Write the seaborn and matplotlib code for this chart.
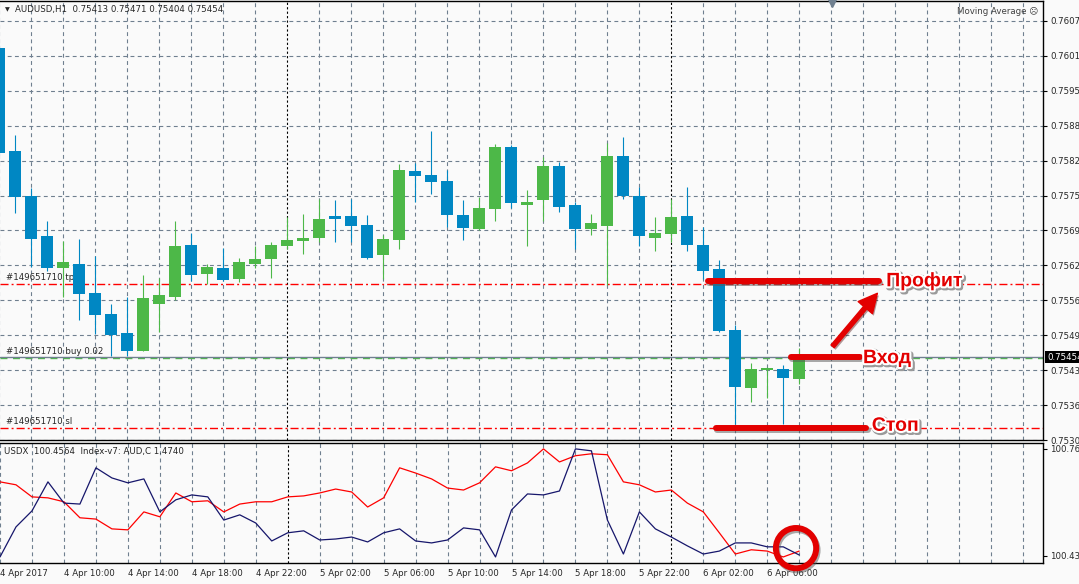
import matplotlib
matplotlib.use('Agg')
import matplotlib.pyplot as plt
import matplotlib.patheffects as pe
import numpy as np
import pandas as pd
import seaborn as sns

# AUDUSD H1 bars, hour 0 = 4 Apr 06:00
hours = list(range(51))
opens = [0.76025, 0.75834, 0.75751, 0.75677, 0.75618, 0.75627, 0.75572, 0.75533, 0.75498, 0.75465,
         0.75552, 0.75565, 0.75662, 0.75607, 0.75618, 0.75598, 0.75627, 0.75636, 0.75660, 0.75668,
         0.75675, 0.75714, 0.75714, 0.75699, 0.75642, 0.75671, 0.75797, 0.75791, 0.75780, 0.75716,
         0.75690, 0.75727, 0.75843, 0.75736, 0.75745, 0.75808, 0.75736, 0.75690, 0.75697, 0.75826,
         0.75752, 0.75675, 0.75682, 0.75714, 0.75662, 0.75616, 0.75504, 0.75397, 0.75430, 0.75432,
         0.75413]
highs = [0.76031, 0.75865, 0.75767, 0.75706, 0.75668, 0.75673, 0.75640, 0.75553, 0.75566, 0.75605,
         0.75601, 0.75705, 0.75684, 0.75627, 0.75655, 0.75638, 0.75660, 0.75666, 0.75712, 0.75719,
         0.75747, 0.75745, 0.75747, 0.75717, 0.75679, 0.75811, 0.75813, 0.75872, 0.75800, 0.75745,
         0.75749, 0.75847, 0.75845, 0.75762, 0.75824, 0.75815, 0.75741, 0.75719, 0.75850, 0.75861,
         0.75769, 0.75712, 0.75747, 0.75769, 0.75695, 0.75634, 0.75513, 0.75443, 0.75436, 0.75439,
         0.75471]
lows = [0.75828, 0.75721, 0.75620, 0.75614, 0.75566, 0.75522, 0.75496, 0.75456, 0.75456, 0.75465,
        0.75500, 0.75559, 0.75594, 0.75590, 0.75594, 0.75592, 0.75618, 0.75600, 0.75653, 0.75644,
        0.75666, 0.75666, 0.75666, 0.75636, 0.75598, 0.75653, 0.75740, 0.75756, 0.75695, 0.75671,
        0.75688, 0.75706, 0.75729, 0.75659, 0.75705, 0.75723, 0.75653, 0.75679, 0.75588, 0.75747,
        0.75660, 0.75651, 0.75666, 0.75651, 0.75598, 0.75500, 0.75330, 0.75371, 0.75378, 0.75330,
        0.75404]
closes = [0.75832, 0.75749, 0.75673, 0.75618, 0.75629, 0.75570, 0.75531, 0.75495, 0.75465, 0.75563,
          0.75568, 0.75660, 0.75605, 0.75620, 0.75596, 0.75629, 0.75636, 0.75662, 0.75671, 0.75675,
          0.75710, 0.75710, 0.75697, 0.75638, 0.75673, 0.75799, 0.75789, 0.75778, 0.75716, 0.75692,
          0.75729, 0.75843, 0.75738, 0.75741, 0.75808, 0.75732, 0.75690, 0.75701, 0.75826, 0.75751,
          0.75677, 0.75684, 0.75712, 0.75662, 0.75614, 0.75502, 0.75399, 0.75432, 0.75434, 0.75415,
          0.75454]

# Index-v7 sub window
usdx = [100.433, 100.525, 100.574, 100.663, 100.598, 100.595, 100.706, 100.675, 100.660, 100.672,
        100.571, 100.608, 100.623, 100.617, 100.546, 100.562, 100.537, 100.482, 100.507, 100.513,
        100.485, 100.488, 100.494, 100.479, 100.507, 100.519, 100.482, 100.476, 100.485, 100.522,
        100.516, 100.433, 100.577, 100.626, 100.623, 100.635, 100.764, 100.758, 100.546, 100.442,
        100.571, 100.519, 100.494, 100.467, 100.442, 100.451, 100.476, 100.476, 100.464, 100.464,
        100.439]
aud = [100.663, 100.654, 100.617, 100.614, 100.602, 100.553, 100.549, 100.519, 100.516, 100.571,
       100.556, 100.629, 100.602, 100.605, 100.571, 100.595, 100.602, 100.602, 100.617, 100.620,
       100.629, 100.641, 100.632, 100.586, 100.614, 100.706, 100.690, 100.672, 100.644, 100.638,
       100.660, 100.709, 100.697, 100.721, 100.764, 100.724, 100.743, 100.749, 100.746, 100.663,
       100.654, 100.632, 100.638, 100.598, 100.571, 100.507, 100.442, 100.455, 100.451, 100.433,
       100.451]

price_labels = ['0.76075', '0.76010', '0.75950', '0.75885', '0.75820', '0.75755', '0.75690',
                '0.75625', '0.75560', '0.75495', '0.75430', '0.75365', '0.75305']
time_hours = [0, 4, 8, 12, 16, 20, 24, 28, 32, 36, 40, 44, 48]
time_labels = ['4 Apr 2017', '4 Apr 10:00', '4 Apr 14:00', '4 Apr 18:00', '4 Apr 22:00',
               '5 Apr 02:00', '5 Apr 06:00', '5 Apr 10:00', '5 Apr 14:00', '5 Apr 18:00',
               '5 Apr 22:00', '6 Apr 02:00', '6 Apr 06:00']
day_breaks = [18, 42]

tp_price = 0.75590
sl_price = 0.75323
entry_price = 0.75452
bid_price = closes[-1]

BG = '#fafafa'
GRID = '#6f7f8f'
BULL = '#4db848'
BEAR = '#0087c3'
RED = '#e30000'

sns.set_theme(style='white')
plt.rcParams['font.family'] = ['DejaVu Sans']
FS = 6.2

fig = plt.figure(figsize=(10.79, 5.84), dpi=100, facecolor=BG)
ax = fig.add_axes([0, 144 / 584, 1043 / 1079, 439 / 584], facecolor=BG)
ax2 = fig.add_axes([0, 21 / 584, 1043 / 1079, 120 / 584], facecolor=BG)

xlim = (0.0625, 65.25)
grid_hours = [h for h in range(0, 66, 2) if h not in day_breaks]

# candles
df = pd.DataFrame({'t': hours, 'open': opens, 'high': highs, 'low': lows, 'close': closes})
colors = np.where(df['close'] >= df['open'], BULL, BEAR)
ax.vlines(df['t'], df['low'], df['high'], colors=colors, lw=0.8, zorder=4)
body_lo = df[['open', 'close']].min(axis=1)
body_h = (df['close'] - df['open']).abs().clip(lower=3e-5)
ax.bar(df['t'], body_h, bottom=body_lo, width=0.7, color=colors, lw=0, zorder=5)

price_ticks = 0.76075 - 0.000645 * np.arange(len(price_labels))
ax.set_ylim(0.753028, 0.761119)
ax.set_xlim(*xlim)
ax.set_yticks(price_ticks)
ax.set_yticklabels(price_labels)
ax.set_xticks([])
ax.yaxis.tick_right()
ax.tick_params(axis='y', right=True, length=3, width=0.8, color='black', labelsize=FS, pad=2)
ax.grid(True, axis='y', color=GRID, lw=0.8, linestyle=(0, (3.5, 3)))
for h in grid_hours:
    ax.axvline(h, color=GRID, lw=0.8, ls=(0, (3.5, 3)), zorder=1)
    ax2.axvline(h, color=GRID, lw=0.8, ls=(0, (3.5, 3)), zorder=1)
for h in day_breaks:
    ax.axvline(h, color='black', lw=0.8, ls=(0, (2, 2)), zorder=1)
    ax2.axvline(h, color='black', lw=0.8, ls=(0, (2, 2)), zorder=1)

# order levels
ax.axhline(tp_price, color='#ff0000', lw=1, ls=(0, (5.8, 2.2, 1.4, 2.2)), zorder=2)
ax.axhline(sl_price, color='#ff0000', lw=1, ls=(0, (5.8, 2.2, 1.4, 2.2)), zorder=2)
ax.axhline(entry_price, color=BULL, lw=1, ls=(0, (5, 4)), zorder=2)
ax.axhline(bid_price, color='#708090', lw=1, zorder=2)
ytr = ax.get_yaxis_transform()
ax.text(0.006, tp_price + 0.00003, '#149651710 tp', transform=ytr, fontsize=FS, va='bottom')
ax.text(0.006, bid_price + 0.00003, '#149651710 buy 0.02', transform=ytr, fontsize=FS, va='bottom')
ax.text(0.006, sl_price + 0.00003, '#149651710 sl', transform=ytr, fontsize=FS, va='bottom')
ax.text(1.0038, bid_price, f'{bid_price:.5f}', transform=ytr, fontsize=FS, color='white',
        va='center', ha='left', bbox=dict(boxstyle='square,pad=0.2', fc='black', ec='none'),
        clip_on=False)

# header texts
ax.text(0.0048, 0.9795, '\u25bc', transform=ax.transAxes, fontsize=4.5, va='center')
ax.text(0.0144, 0.9795,
        f'AUDUSD,H1  {opens[-1]:.5f} {highs[-1]:.5f} {lows[-1]:.5f} {closes[-1]:.5f}',
        transform=ax.transAxes, fontsize=FS, va='center')
ax.text(0.995, 0.977, 'Moving Average \u2639', transform=ax.transAxes, fontsize=FS,
        color='#404040', va='center', ha='right')
ax.plot([52.06], [0.995], marker='v', color='#708090', ms=6, transform=ax.get_xaxis_transform(),
        clip_on=False, zorder=6)

# hand drawn trade marks
line_fx = [pe.SimpleLineShadow(offset=(1, -1.5), shadow_color='#555555', alpha=0.5), pe.Normal()]
text_fx = [pe.Stroke(linewidth=4, foreground='#9a9a9a', offset=(1, -1)),
           pe.Stroke(linewidth=3, foreground='white'), pe.Normal()]
ax.plot([44.3, 55.0], [tp_price + 0.00004] * 2, color=RED, lw=4.3, solid_capstyle='round',
        path_effects=line_fx, zorder=7)
ax.plot([49.5, 53.8], [bid_price] * 2, color=RED, lw=4.3, solid_capstyle='round',
        path_effects=line_fx, zorder=7)
ax.plot([44.8, 54.2], [sl_price] * 2, color=RED, lw=4.3, solid_capstyle='round',
        path_effects=line_fx, zorder=7)
word = dict(fontsize=14, fontweight='bold', family='Liberation Sans', color=RED,
            va='baseline', ha='left', path_effects=text_fx, zorder=8)
ax.text(55.45, tp_price - 0.00005, 'Профит', **word)
ax.text(54.0, bid_price - 0.00011, 'Вход', **word)
ax.text(54.55, sl_price - 0.00005, 'Стоп', **word)
ax.annotate('', xy=(54.9, 0.75572), xytext=(52.1, 0.75474),
            arrowprops=dict(arrowstyle='simple,head_length=0.9,head_width=0.9,tail_width=0.2',
                            color=RED, shrinkA=0, shrinkB=0, mutation_scale=15,
                            path_effects=[pe.SimplePatchShadow(offset=(1, -1.5), alpha=0.4),
                                          pe.Normal()]),
            zorder=8)

# indicator window
sns.lineplot(x=hours, y=aud, ax=ax2, color='#ff0000', lw=0.9, zorder=3)
sns.lineplot(x=hours, y=usdx, ax=ax2, color='#16166b', lw=0.9, zorder=3)
ax2.set_xlabel('')
ax2.set_ylabel('')
ax2.set_xlim(*xlim)
ax2.set_ylim(100.4145, 100.782)
ax2.set_yticks([100.764, 100.436])
ax2.set_yticklabels(['100.764', '100.436'])
ax2.yaxis.tick_right()
ax2.tick_params(axis='y', right=True, length=3, width=0.8, color='black', labelsize=FS, pad=2)
ax2.set_xticks(time_hours)
ax2.set_xticklabels(time_labels, ha='left')
ax2.tick_params(axis='x', bottom=True, length=0, labelsize=FS, pad=4)
ax2.text(0.004, 0.933, 'USDX  100.4564  Index-v7: AUD,C 1.4740', transform=ax2.transAxes,
         fontsize=FS, va='center')
ax2.plot([49.8], [100.46], marker='o', ms=29, mfc='none', mec=RED, mew=4.3, clip_on=False,
         zorder=10, path_effects=line_fx)

for a in (ax, ax2):
    for side in ('top', 'right', 'bottom'):
        a.spines[side].set_color('black')
        a.spines[side].set_linewidth(1)
    a.spines['left'].set_visible(False)

fig.savefig('out.png', dpi=100, facecolor=BG)
